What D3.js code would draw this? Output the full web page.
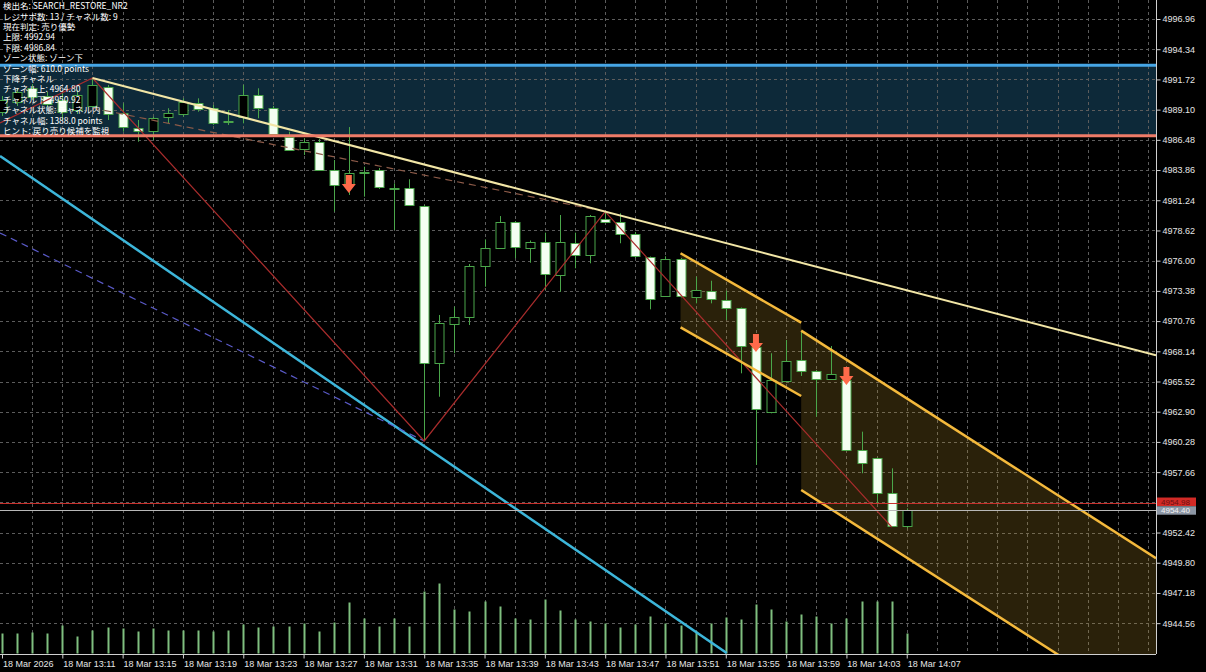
<!DOCTYPE html>
<html><head><meta charset="utf-8">
<script src="https://cdn.jsdelivr.net/npm/d3@7"></script>
<style>body{margin:0;background:#000;overflow:hidden}svg{display:block}</style>
</head><body><svg id="c" width="1206" height="672"></svg>
<script>
// ---------- DATA ----------
const opens  = [4988.89,4989.76,4990.98,4990.28,4989.94,4989.07,4989.42,4991.09,4988.78,4987.48,4987.19,4988.40,4988.72,4989.70,4989.27,4988.09,4988.49,4990.37,4989.22,4986.75,4985.75,4986.32,4983.86,4982.71,4983.65,4983.86,4982.33,4982.28,4980.74,4967.10,4970.57,4971.14,4975.54,4977.07,4979.33,4977.12,4977.65,4974.82,4977.51,4976.49,4979.61,4979.38,4978.29,4976.28,4972.94,4976.12,4972.88,4973.40,4972.59,4971.87,4968.49,4962.90,4965.56,4967.39,4966.43,4965.76,4965.65,4959.58,4958.86,4955.82,4952.99];
const highs  = [4990.28,4990.98,4991.32,4990.63,4990.54,4990.80,4991.84,4991.24,4989.65,4988.20,4988.49,4989.22,4990.08,4990.08,4989.50,4989.07,4991.24,4990.95,4989.42,4987.19,4986.61,4986.55,4984.73,4987.59,4984.15,4984.04,4982.71,4983.06,4980.83,4971.29,4972.01,4975.71,4977.85,4979.87,4979.44,4977.75,4978.43,4979.96,4978.43,4979.96,4980.25,4980.11,4978.49,4976.36,4976.38,4976.23,4974.61,4974.26,4973.40,4971.94,4969.12,4967.97,4969.12,4969.84,4966.52,4968.60,4965.94,4961.17,4958.93,4957.99,4954.52];
const lows   = [4988.55,4989.42,4989.94,4989.33,4988.20,4988.72,4989.24,4988.20,4987.19,4986.32,4986.47,4987.91,4988.49,4988.92,4987.77,4987.77,4987.91,4988.35,4986.81,4985.60,4985.17,4983.78,4980.25,4981.70,4981.55,4982.22,4978.66,4980.74,4960.36,4964.20,4967.97,4970.42,4973.74,4977.01,4976.21,4975.82,4973.46,4973.31,4975.34,4975.77,4979.31,4977.51,4976.23,4971.78,4972.85,4972.81,4972.30,4972.30,4970.85,4966.23,4958.28,4962.76,4965.48,4966.00,4962.47,4965.69,4959.49,4957.56,4954.98,4952.90,4952.79];
const closes = [4989.94,4990.63,4990.20,4989.59,4988.89,4990.37,4991.24,4988.78,4987.57,4987.25,4988.35,4988.78,4989.74,4989.22,4988.00,4988.03,4990.37,4989.22,4986.99,4985.66,4986.32,4983.92,4982.56,4983.63,4983.73,4982.36,4982.24,4980.83,4967.10,4970.57,4971.14,4975.54,4977.07,4979.33,4977.12,4977.65,4974.84,4977.65,4976.49,4979.87,4979.38,4978.37,4976.34,4972.68,4976.12,4972.88,4973.46,4972.68,4971.87,4968.60,4963.11,4965.65,4967.32,4966.46,4965.71,4966.17,4959.58,4958.43,4955.82,4952.99,4954.40];
const volumes = [20,20,21,20,28,17,23,26,25,22,25,23,23,23,22,23,29,26,27,27,30,22,31,51,35,27,35,27,62,70,44,42,52,47,35,34,54,43,34,32,30,26,29,37,30,28,22,30,36,34,49,44,32,39,37,30,35,52,52,52,20];

const xTickIdx = [0,4,8,12,16,20,24,28,32,36,40,44,48,52,56,60];
const xTickLabels = ["18 Mar 2026","18 Mar 13:11","18 Mar 13:15","18 Mar 13:19","18 Mar 13:23","18 Mar 13:27","18 Mar 13:31","18 Mar 13:35","18 Mar 13:39","18 Mar 13:43","18 Mar 13:47","18 Mar 13:51","18 Mar 13:55","18 Mar 13:59","18 Mar 14:03","18 Mar 14:07"];
const yTicks = [4996.96,4994.34,4991.72,4989.10,4986.48,4983.86,4981.24,4978.62,4976.00,4973.38,4970.76,4968.14,4965.52,4962.90,4960.28,4957.66,4955.04,4952.42,4949.80,4947.18,4944.56];
const yTickHidden = [4955.04]; // covered by the price labels in the reference

const zoneTop = 4992.94, zoneBottom = 4986.84;
const redLevel = 4954.98, bidLevel = 4954.40;
const zigzag = [[-0.13,4987.94],[6,4991.84],[28,4960.36],[40,4980.25],[59,4952.90]];
const upperTrend = [[6,4991.84],[40,4980.25]];
const dashedBrown = [[6,4989.24],[40,4980.25]];
const dashedBlue = [[-0.13,4978.40],[28,4960.36]];
const cyanLine = [[-0.13,4985.08],[48.06,4941.97]];
const channel1 = {from:45, to:53, upper:[4976.64,4970.62], lower:[4970.22,4964.26]};
const channel2 = {from:53, to:76.53, upper:[4969.93,4950.20], lower:[4956.11,4936.38]};
const sellArrows = [[23,4981.87],[50,4968.08],[56,4965.22]];
const infoLines = ["検出名: SEARCH_RESTORE_NR2","レジサポ数: 13 / チャネル数: 9","現在判定: 売り優勢","上限: 4992.94","下限: 4986.84","ゾーン状態: ゾーン下","ゾーン幅: 610.0 points","下降チャネル","チャネル上: 4964.80","チャネル下: 4950.92","チャネル状態: チャネル内","チャネル幅: 1388.0 points","ヒント: 戻り売り候補を監視"];

// ---------- SCALES ----------
const PW = 1156, PH = 654;
const x = d3.scaleLinear().domain([-0.133, 76.53]).range([0, PW]);
const y = d3.scaleLinear().domain([4941.886, 4998.608]).range([PH, 0]);
const yv = d3.scaleLinear().domain([0, 100]).range([653.5, 553.5]);
const px = i => Math.round(x(i)) + 0.5;

const svg = d3.select("#c");
svg.append("rect").attr("width",1206).attr("height",672).attr("fill","#000");
svg.append("defs").append("clipPath").attr("id","plot").append("rect").attr("width",PW).attr("height",PH);
const g = svg.append("g").attr("clip-path","url(#plot)");

// zone fill
g.append("rect").attr("x",0).attr("width",PW).attr("y",y(zoneTop)).attr("height",y(zoneBottom)-y(zoneTop)).attr("fill","#0d2939");

// grid
const grid = g.append("g").attr("stroke","#5c5c5c").attr("stroke-dasharray","3,3").attr("stroke-width",1);
grid.selectAll("line.h").data(yTicks).join("line").attr("x1",0).attr("x2",PW)
  .attr("y1",d=>Math.round(y(d))+0.5).attr("y2",d=>Math.round(y(d))+0.5);
grid.selectAll("line.v").data(d3.range(2,77,2)).join("line").attr("y1",0).attr("y2",PH)
  .attr("x1",d=>px(d)).attr("x2",d=>px(d));

// channel fills
function chanPoly(c){
  return [[x(c.from),y(c.upper[0])],[x(c.to),y(c.upper[1])],[x(c.to),y(c.lower[1])],[x(c.from),y(c.lower[0])]];
}
[channel1, channel2].forEach(c=>{
  g.append("path").attr("d", d3.line()(chanPoly(c))+"Z").attr("fill","rgba(190,150,45,0.22)");
});

// volumes
g.append("g").selectAll("line").data(volumes).join("line")
  .attr("x1",(d,i)=>px(i)).attr("x2",(d,i)=>px(i))
  .attr("y1",yv(0)).attr("y2",d=>yv(d))
  .attr("stroke","#7fbf7f").attr("stroke-width",2);

// candles
const idx = d3.range(opens.length);
const cg = g.append("g");
cg.selectAll("line.w").data(idx).join("line")
  .attr("x1",i=>px(i)).attr("x2",i=>px(i))
  .attr("y1",i=>y(highs[i])).attr("y2",i=>y(lows[i]))
  .attr("stroke","#4aa64a").attr("stroke-width",1);
cg.selectAll("rect.b").data(idx).join("rect")
  .attr("x",i=>px(i)-4.5).attr("width",9)
  .attr("y",i=>Math.round(y(Math.max(opens[i],closes[i])))+0.5)
  .attr("height",i=>Math.max(1,Math.round(Math.abs(y(opens[i])-y(closes[i])))))
  .attr("fill",i=>closes[i]>opens[i]?"#000":"#f4fff2")
  .attr("stroke","#4aa64a").attr("stroke-width",1);

// lines
const lineGen = d3.line().x(d=>x(d[0])).y(d=>y(d[1]));
function extendRight(pts){
  const [a,b]=pts; const s=(b[1]-a[1])/(b[0]-a[0]); const xe=x.domain()[1];
  return [a,[xe, a[1]+s*(xe-a[0])]];
}
g.append("path").attr("d",lineGen(cyanLine)).attr("stroke","#3db6da").attr("stroke-width",2.5).attr("fill","none");
g.append("path").attr("d",lineGen(dashedBlue)).attr("stroke","#5a5ac8").attr("stroke-width",1.2).attr("stroke-dasharray","7,5").attr("fill","none");
g.append("path").attr("d",lineGen(dashedBrown)).attr("stroke","#8c5a48").attr("stroke-width",1.2).attr("stroke-dasharray","7,5").attr("fill","none");
g.append("path").attr("d",lineGen(zigzag)).attr("stroke","#a82c2c").attr("stroke-width",1.2).attr("fill","none");
g.append("path").attr("d",lineGen(extendRight(upperTrend))).attr("stroke","#f2e6a6").attr("stroke-width",2).attr("fill","none");
[channel1, channel2].forEach(c=>{
  g.append("path").attr("d",lineGen([[c.from,c.upper[0]],[c.to,c.upper[1]]])).attr("stroke","#f4b93c").attr("stroke-width",2.5).attr("fill","none");
  g.append("path").attr("d",lineGen([[c.from,c.lower[0]],[c.to,c.lower[1]]])).attr("stroke","#f4b93c").attr("stroke-width",2.5).attr("fill","none");
});

// zone lines
g.append("line").attr("x1",0).attr("x2",PW).attr("y1",y(zoneTop)).attr("y2",y(zoneTop)).attr("stroke","#46a6e6").attr("stroke-width",3);
g.append("line").attr("x1",0).attr("x2",PW).attr("y1",y(zoneBottom)).attr("y2",y(zoneBottom)).attr("stroke","#ee7b68").attr("stroke-width",3);

// levels
g.append("line").attr("x1",0).attr("x2",PW).attr("y1",Math.round(y(redLevel))+0.5).attr("y2",Math.round(y(redLevel))+0.5).attr("stroke","#c8302c").attr("stroke-width",1);
g.append("line").attr("x1",0).attr("x2",PW).attr("y1",Math.round(y(bidLevel))+0.5).attr("y2",Math.round(y(bidLevel))+0.5).attr("stroke","#b8b8b8").attr("stroke-width",1);

// arrows
g.append("g").selectAll("path").data(sellArrows).join("path")
  .attr("d",d=>{const cx=x(d[0]), ty=y(d[1]);
    return `M${cx-7},${ty-9} L${cx-3},${ty-9} L${cx-3},${ty-18} L${cx+3},${ty-18} L${cx+3},${ty-9} L${cx+7},${ty-9} L${cx},${ty} Z`;})
  .attr("fill","#ff6a4a");

// axes
const yAxis = svg.append("g").attr("transform",`translate(${PW+0.5},0)`)
  .call(d3.axisRight(y).tickValues(yTicks).tickFormat(d=>yTickHidden.includes(d)?"":d.toFixed(2)).tickSize(4).tickSizeOuter(0));
const xAxis = svg.append("g").attr("transform",`translate(0,${PH+0.5})`)
  .call(d3.axisBottom(x).tickValues(xTickIdx).tickFormat((d,i)=>xTickLabels[i]).tickSize(4).tickSizeOuter(0));
[yAxis,xAxis].forEach(a=>{
  a.selectAll("path.domain").attr("stroke","#d0d0d0");
  a.selectAll("line").attr("stroke","#d0d0d0");
  a.selectAll("text").attr("fill","#e6e6e6").style("font-family","'Liberation Sans', Arial, sans-serif").style("font-size","9px");
});
yAxis.selectAll("text").attr("x",6);
xAxis.selectAll("text").attr("text-anchor","start").attr("dx","0.05em").attr("y",6);
xAxis.select("path.domain").attr("d",`M0,0H${PW}`);
yAxis.select("path.domain").attr("d",`M0,0V${PH}`);

// price labels (red one sits just above the grey bid label, as in the reference)
function priceLabel(v, cy, bg, fg){
  svg.append("rect").attr("x",PW+1).attr("y",cy-4).attr("width",39).attr("height",8.5).attr("fill",bg);
  svg.append("text").attr("x",PW+5).attr("y",cy+3).text(v.toFixed(2))
    .attr("fill",fg).style("font-family","'Liberation Sans', Arial, sans-serif").style("font-size","8px");
}
priceLabel(redLevel, y(redLevel)-1.5, "#d22a26","#6a1010");
priceLabel(bidLevel, y(bidLevel)+0.5, "#8c96a4","#f4f4f4");

// info text
svg.append("g").selectAll("text").data(infoLines).join("text")
  .attr("x",3).attr("y",(d,i)=>9.3+i*10.39).text(d=>d)
  .attr("fill","#ffffff").style("font-family","'Noto Sans CJK JP', 'Noto Sans', sans-serif").style("font-size","8.5px");
</script></body></html>
